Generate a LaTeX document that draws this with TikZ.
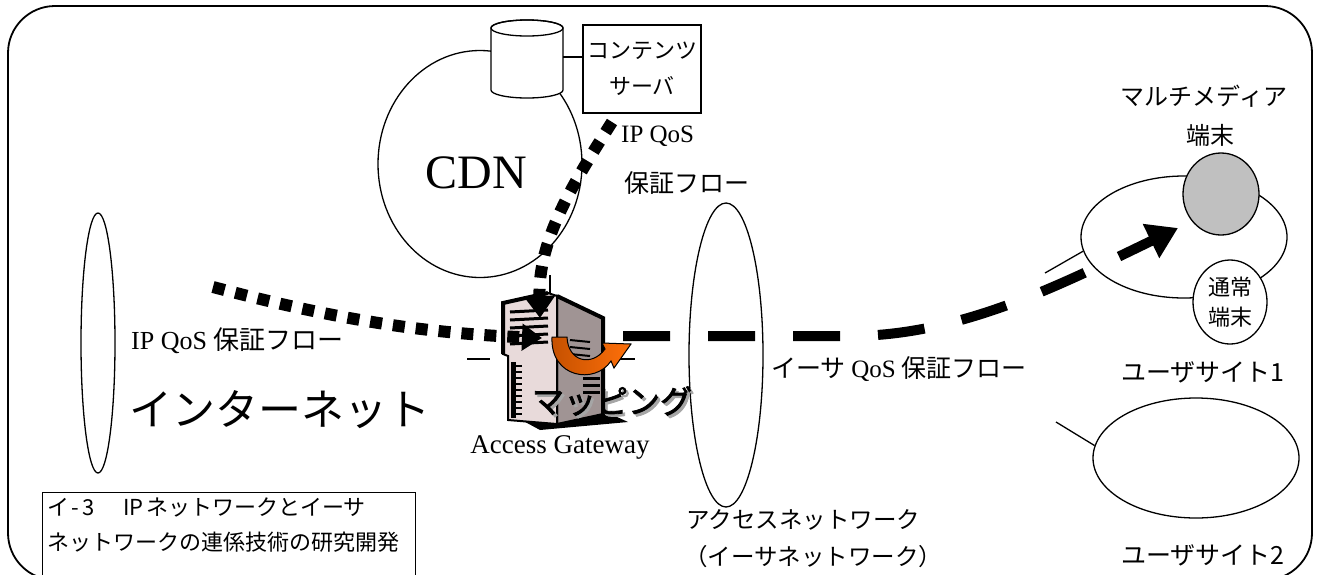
\documentclass[tikz,border=0pt]{standalone}
\usepackage{fontspec}
\setmainfont{Liberation Serif}
\newfontfamily\jp{Noto Sans CJK JP}
\newfontfamily\jpbf[FakeBold=2.5]{Noto Sans CJK JP}
\usetikzlibrary{arrows.meta,shapes.geometric}
\definecolor{termgray}{RGB}{192,192,192}
\definecolor{frontpink}{RGB}{232,218,218}
\definecolor{sidegray}{RGB}{160,148,148}
\definecolor{mapdark}{RGB}{196,80,0}
\definecolor{maplight}{RGB}{255,112,10}

\begin{document}
\begin{tikzpicture}[x=1pt,y=-1pt,
  thinline/.style={line width=1.3pt},
  oval/.style={ellipse, draw, thinline, inner sep=0pt},
  jptext/.style={font=\jp\fontsize{#1}{#1}\selectfont, inner sep=0pt},
  rmtext/.style={font=\rmfamily\fontsize{#1}{#1}\selectfont, inner sep=0pt},
  ipflow/.style={line width=12pt, dash pattern=on 12pt off 11pt},
  ethflow/.style={line width=10pt, dash pattern=on 47pt off 38pt},
  gwline/.style={line width=2pt},
]
\useasboundingbox (0,0) rectangle (1319,574);

% outer frame
\draw[line width=1.8pt, rounded corners=47pt] (8,6) rectangle (1312,580);

% networks
\node[oval, minimum width=34pt, minimum height=260pt] (inet) at (98,343) {};
\node[oval, minimum width=74pt, minimum height=304pt] (acc) at (726,355) {};
\node[oval, minimum width=204pt, minimum height=227pt] (cdn) at (480,164) {};

% content server: database cylinder and label box
\filldraw[thinline, fill=white] (491,28) -- (491,90)
  arc[start angle=180, end angle=0, x radius=36, y radius=8]
  -- (563,28) arc[start angle=0, end angle=-180, x radius=36, y radius=8] -- cycle;
\draw[thinline] (527,28) ellipse[x radius=36, y radius=8];
\coordinate (db) at (563,57);
\node[draw, thinline, minimum width=118pt, minimum height=88pt, align=center,
      font=\jp\fontsize{22}{36}\selectfont, inner sep=0pt] (srv) at (642,69)
  {コンテンツ\\サーバ};
\draw[thinline] (db) -- (db -| srv.west);

% user sites
\node[oval, minimum width=206pt, minimum height=122pt] (site1) at (1184,237) {};
\node[oval, minimum width=206pt, minimum height=120pt] (site2) at (1196,458) {};
\node[oval, fill=termgray, minimum width=76pt, minimum height=82pt] (mm) at (1221,194) {};
\node[oval, fill=white, minimum width=74pt, minimum height=84pt, align=center,
      font=\jp\fontsize{22}{30}\selectfont] (nt) at (1230,302) {通常\\端末};
\coordinate (tail1) at (1045,273);
\coordinate (tail2) at (1056,422);
\draw[thinline] (tail1) -- (site1.188);
\draw[thinline] (tail2) -- (site2.173);

% short rules beside the gateway
\coordinate (ruleA) at (467,359);
\coordinate (ruleB) at (490,359);
\coordinate (ruleC) at (617,359);
\coordinate (ruleD) at (635,359);
\draw[thinline] (ruleA) -- (ruleB);
\draw[thinline] (ruleC) -- (ruleD);

% access gateway (server tower)
\coordinate (gw) at (555,360);
\fill (516,417) -- (604,411) -- (628,422) -- (540,430) -- cycle;
\filldraw[fill=sidegray, gwline] (557,296) -- (603,318) -- (603,414) -- (557,424) -- cycle;
\draw[line width=4pt] (557,296) -- (603,318) -- (603,414);
\filldraw[fill=frontpink, gwline] (503,303) -- (548,293) -- (557,296) -- (557,424)
  -- (508,420) -- (508,356) -- (503,354) -- cycle;
\draw[line width=4pt] (548,293) -- (503,303) -- (503,354);
\foreach \yy in {312,320,328,336,344} \draw[line width=3pt] (510,\yy) -- (548,\yy-2);
\fill (511,362) rectangle (516,418);
\foreach \yy in {366,372,...,414} \draw[gwline] (516,\yy) -- (522,\yy);
\foreach \yy in {340,347,354} \draw[gwline] (570,\yy) -- (590,\yy+2);
\foreach \yy in {378,385,392} \draw[line width=3pt] (583,\yy) -- (600,\yy);
\draw[thinline] (550,275) -- (550,293);

% IP QoS flows into the gateway
\coordinate (ipsrc) at (213,287);
\coordinate (gwin) at (542,338);
\coordinate (cdnsrc) at (612,122);
\coordinate (gwtop) at (540,318);
\draw[ipflow, -{Triangle[length=20pt,width=26pt]}]
  (ipsrc) .. controls (330,318) and (420,333) .. (gwin);
\draw[ipflow, -{Triangle[length=22pt,width=30pt]}]
  (cdnsrc) .. controls (572,185) and (538,240) .. (gwtop);

% Ethernet QoS flow to the multimedia terminal
\coordinate (ethsrc) at (623,336);
\coordinate (ethdst) at (1178,228);
\draw[ethflow, -{Triangle[length=30pt,width=36pt]}]
  (ethsrc) -- (850,336) .. controls (960,336) and (1060,285) .. (ethdst);

% mapping arrow
\shadedraw[left color=mapdark, right color=maplight, draw=black, line width=1pt]
  (552,337) -- (567,337) .. controls (568,362) and (592,367) .. (605,349)
  -- (602,343) -- (631,344) -- (614,368) -- (611,361)
  .. controls (595,385) and (550,378) .. (552,337) -- cycle;

% labels
\node[rmtext=48] (cdnlbl) at (476,173) {CDN};
\node[rmtext=25, anchor=west] (ipq1) at (621,136) {IP QoS};
\node[jptext=25, anchor=west] (ipq2) at (624,183) {保証フロー};
\node[anchor=west, inner sep=0pt] (ipq3) at (131,341)
  {\rmfamily\fontsize{26}{26}\selectfont IP QoS {\jp 保証フロー}};
\node[jptext=43, anchor=west] (inetlbl) at (129,410) {インターネット};
\node[rmtext=27] (gwlbl) at (560,447) {Access Gateway};
\node[font=\jpbf\fontsize{32}{32}\selectfont, text=black!35, inner sep=0pt] at (614.5,403.5) {マッピング};
\node[font=\jpbf\fontsize{32}{32}\selectfont, inner sep=0pt] (maplbl) at (612,401) {マッピング};
\node[anchor=west, inner sep=0pt] (ethq) at (771,369)
  {\jp\fontsize{25}{25}\selectfont イーサ {\rmfamily QoS} 保証フロー};
\node[jptext=23.5, anchor=west] (acc1) at (686,520) {アクセスネットワーク};
\node[jptext=23.5, anchor=west] (acc2) at (684,557) {（イーサネットワーク）};
\node[jptext=24] (mmlbl1) at (1204,96) {マルチメディア};
\node[jptext=24] (mmlbl2) at (1210,135) {端末};
\node[jptext=25] (s1lbl) at (1203,372) {ユーザサイト1};
\node[jptext=25] (s2lbl) at (1203,555) {ユーザサイト2};

% title box
\node[draw, thinline, anchor=north west, minimum width=373pt, minimum height=100pt,
      inner sep=0pt] (titlebox) at (42,492) {};
\node[jptext=22, anchor=west] (title1) at (47,507)
  {イ\hspace{2pt}-\hspace{4pt}3\hspace{28pt}IP\hspace{3pt}ネットワークとイーサ};
\node[jptext=22, anchor=west] (title2) at (47,542) {ネットワークの連係技術の研究開発};
\end{tikzpicture}
\end{document}
